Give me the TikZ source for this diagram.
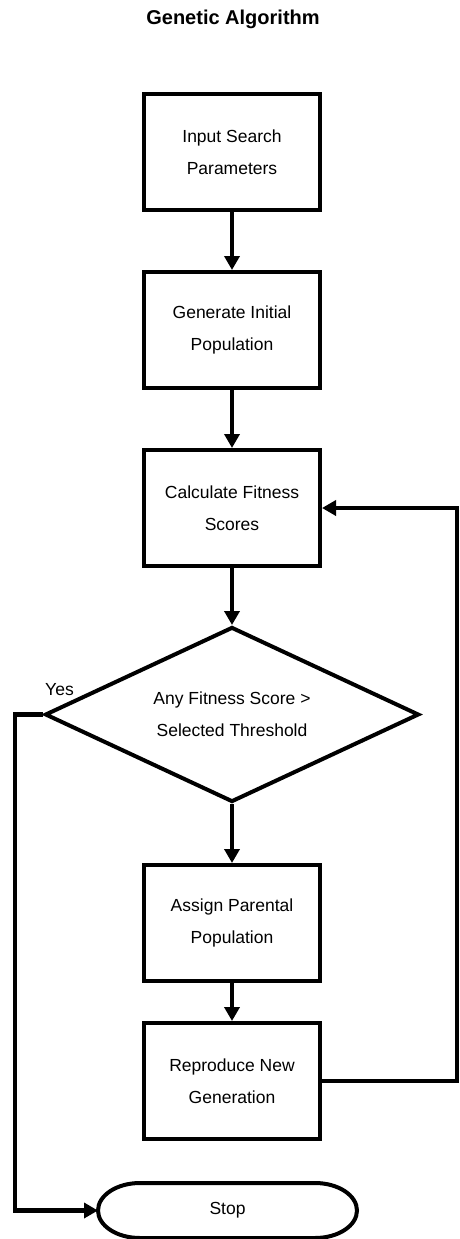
\documentclass[tikz,border=0pt]{standalone}
\usepackage{fontspec}
\setmainfont{Liberation Sans}
\usetikzlibrary{arrows.meta,positioning,calc,shapes.geometric}

\tikzset{
  procbox/.style={draw,line width=4pt,minimum width=176pt,minimum height=116pt,
    inner sep=0pt,align=center,font=\fontsize{17.5}{32}\selectfont},
  decision/.style={diamond,aspect=2.2,draw,line width=4pt,minimum width=374pt,minimum height=175pt,
    inner sep=0pt,align=center,font=\fontsize{17.5}{32}\selectfont},
  flow/.style={line width=4.5pt,-{Triangle[width=15pt,length=14pt]}},
}

\begin{document}
\begin{tikzpicture}[x=1pt,y=-1pt]
  \useasboundingbox (0,0) rectangle (459,1239);
  \node[font=\bfseries\fontsize{20}{24}\selectfont,anchor=base] (title) at (233,25) {Genetic Algorithm};

  \node[procbox] (input) at (232,152) {Input Search\\Parameters};
  \node[procbox,below=58pt of input] (generate) {Generate Initial\\Population};
  \node[procbox,below=58pt of generate] (fitness) {Calculate Fitness\\Scores};
  \node[decision,below=57pt of fitness] (decide) {Any Fitness Score >\\Selected Threshold};
  \node[procbox,below=59pt of decide] (assign) {Assign Parental\\Population};
  \node[procbox,below=38pt of assign] (repro) {Reproduce New\\Generation};
  \node[minimum width=259pt,minimum height=55pt,inner sep=0pt,outer sep=0pt,
    font=\fontsize{17.5}{32}\selectfont,below=42pt of repro,xshift=-4.5pt] (stop) {Stop};
  \draw[line width=4pt] ([xshift=42pt]stop.north west) -- ([xshift=-42pt]stop.north east)
    arc[start angle=90,end angle=-90,x radius=42pt,y radius=27.5pt]
    -- ([xshift=42pt]stop.south west)
    arc[start angle=270,end angle=90,x radius=42pt,y radius=27.5pt] -- cycle;

  \node[font=\fontsize{17.5}{20}\selectfont,inner sep=0pt,above right=19pt and 2pt of decide.west] (yes) {Yes};

  \draw[flow] (input) -- (generate);
  \draw[flow] (generate) -- (fitness);
  \draw[flow] (fitness) -- (decide);
  \draw[flow] (decide) -- (assign);
  \draw[flow] (assign) -- (repro);

  \coordinate (loopR) at ($(repro.east)+(135pt,0)$);
  \draw[flow] (repro.east) -- (loopR) |- (fitness.east);
  \coordinate (yesL) at ($(decide.west)+(-28pt,0)$);
  \draw[flow] (decide.west) -- (yesL) |- (stop.west);
\end{tikzpicture}
\end{document}
